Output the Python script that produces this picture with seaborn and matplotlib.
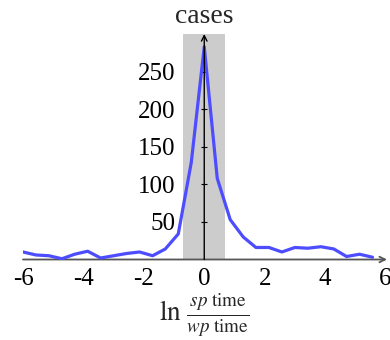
import matplotlib
matplotlib.use('Agg')
import matplotlib.pyplot as plt
import pandas as pd
import seaborn as sns

# bin centres of ln(sp time / wp time) and the number of cases per bin
log_ratio = [-6.00, -5.57, -5.14, -4.71, -4.29, -3.86, -3.43, -3.00, -2.57, -2.14,
             -1.71, -1.29, -0.86, -0.43, 0.00, 0.43, 0.86, 1.29, 1.71, 2.14,
             2.57, 3.00, 3.43, 3.86, 4.29, 4.71, 5.14, 5.57]
cases = [10, 6, 5, 1, 7, 11, 2, 5, 8, 10,
         5, 14, 34, 129, 283, 108, 53, 30, 16, 16,
         10, 16, 15, 17, 14, 4, 7, 3]
band = [-0.693, 0.693]          # shaded region (factor of 2)
x_ticks = [-6, -4, -2, 0, 2, 4, 6]
y_ticks = [50, 100, 150, 200, 250]

df = pd.DataFrame({'ratio': log_ratio, 'cases': cases})

sns.set_style('white')
plt.rcParams['font.family'] = ['Liberation Serif', 'DejaVu Serif']
plt.rcParams['mathtext.fontset'] = 'stix'
fs = 18

fig = plt.figure(figsize=(3.9, 3.4), dpi=100)
ax = fig.add_axes([23 / 390, (340 - 259.5) / 340, 362.5 / 390, 225.5 / 340])

ax.axvspan(band[0], band[1], color='#cccccc', lw=0, zorder=0)
sns.lineplot(data=df, x='ratio', y='cases', ax=ax, color='#4d4dff', lw=2.3,
             zorder=3)

# axis lines through the origin, with arrow heads
for s in ['top', 'right', 'bottom', 'left']:
  ax.spines[s].set_visible(False)
ax.spines['left'].set_position(('data', 0))

ax.set_xlim(-6, 6)
ax.set_ylim(0, 300)

ax.annotate('', xy=(6.05, 0), xytext=(-6, 0), annotation_clip=False,
            arrowprops=dict(arrowstyle='->', color='#555555', lw=1.3,
                            shrinkA=0, shrinkB=0), zorder=2)
ax.annotate('', xy=(0, 300), xytext=(0, 0), annotation_clip=False,
            arrowprops=dict(arrowstyle='->', color='black', lw=1.0,
                            shrinkA=0, shrinkB=0), zorder=4)

ax.set_xticks(x_ticks)
ax.set_xticklabels([str(t) for t in x_ticks])
ax.tick_params(axis='x', length=0, pad=6, labelsize=fs, labelcolor='black')

ax.set_yticks(y_ticks)
ax.set_yticklabels([str(t) for t in y_ticks])
ax.tick_params(axis='y', direction='inout', length=5, width=0.8,
               color='black', pad=18, left=True, labelsize=fs,
               labelcolor='black')

ax.set_xlabel(r'$\ln\,\frac{sp\ \mathrm{time}}{wp\ \mathrm{time}}$', fontsize=19.5)
ax.xaxis.set_label_coords(0.5, -0.145)
ax.set_ylabel('')
ax.set_title('cases', fontsize=20, pad=8)

fig.savefig('out.png', dpi=100)
